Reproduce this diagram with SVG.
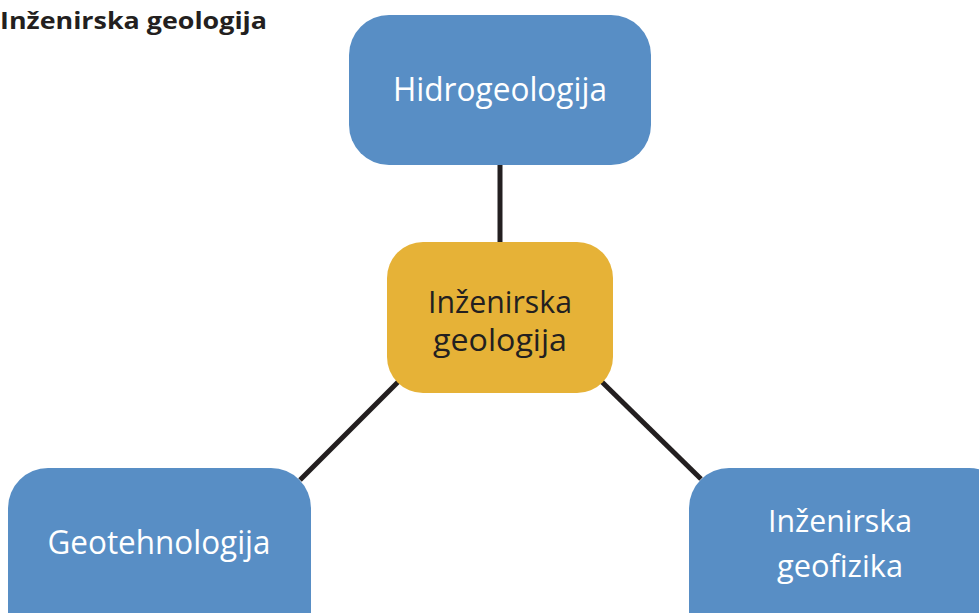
<svg xmlns="http://www.w3.org/2000/svg" width="979" height="613" viewBox="0 0 979 613">
  <style>
    .box { fill: #588EC5; }
    .core { fill: #E6B237; }
    .lbl { font-family: "Open Sans", "Noto Sans", "Liberation Sans", sans-serif; font-size: 33px; text-anchor: middle; }
    .two { font-size: 31px; }
    .light { fill: #ffffff; }
    .dark { fill: #231F20; }
    .title { font-family: "Open Sans", "Noto Sans", "Liberation Sans", sans-serif; font-size: 23.5px; font-weight: bold; fill: #231F20; }
    .link { stroke: #231F20; stroke-width: 5; fill: none; }
  </style>
  <rect width="979" height="613" fill="#ffffff"/>

  <text class="title" x="0" y="29" textLength="267" lengthAdjust="spacingAndGlyphs">Inženirska geologija</text>

  <g id="connectors">
    <line class="link" x1="500" y1="165" x2="500" y2="244"/>
    <line class="link" x1="399" y1="381" x2="300" y2="480"/>
    <line class="link" x1="601" y1="381" x2="701" y2="479"/>
  </g>

  <g id="hidrogeologija">
    <rect class="box" x="349" y="15" width="302" height="150" rx="40"/>
    <text class="lbl light" x="500" y="101" textLength="214" lengthAdjust="spacingAndGlyphs">Hidrogeologija</text>
  </g>

  <g id="inzenirska-geologija">
    <rect class="core" x="387" y="242" width="226" height="151" rx="36"/>
    <text class="lbl two dark" x="500" y="313" textLength="144" lengthAdjust="spacingAndGlyphs">Inženirska</text>
    <text class="lbl two dark" x="500" y="351" textLength="134" lengthAdjust="spacingAndGlyphs">geologija</text>
  </g>

  <g id="geotehnologija">
    <rect class="box" x="8" y="468" width="303" height="190" rx="40"/>
    <text class="lbl light" x="159" y="554" textLength="223" lengthAdjust="spacingAndGlyphs">Geotehnologija</text>
  </g>

  <g id="inzenirska-geofizika">
    <rect class="box" x="689" y="468" width="320" height="190" rx="40"/>
    <text class="lbl two light" x="840" y="532" textLength="144" lengthAdjust="spacingAndGlyphs">Inženirska</text>
    <text class="lbl two light" x="840" y="577" textLength="126" lengthAdjust="spacingAndGlyphs">geofizika</text>
  </g>
</svg>
